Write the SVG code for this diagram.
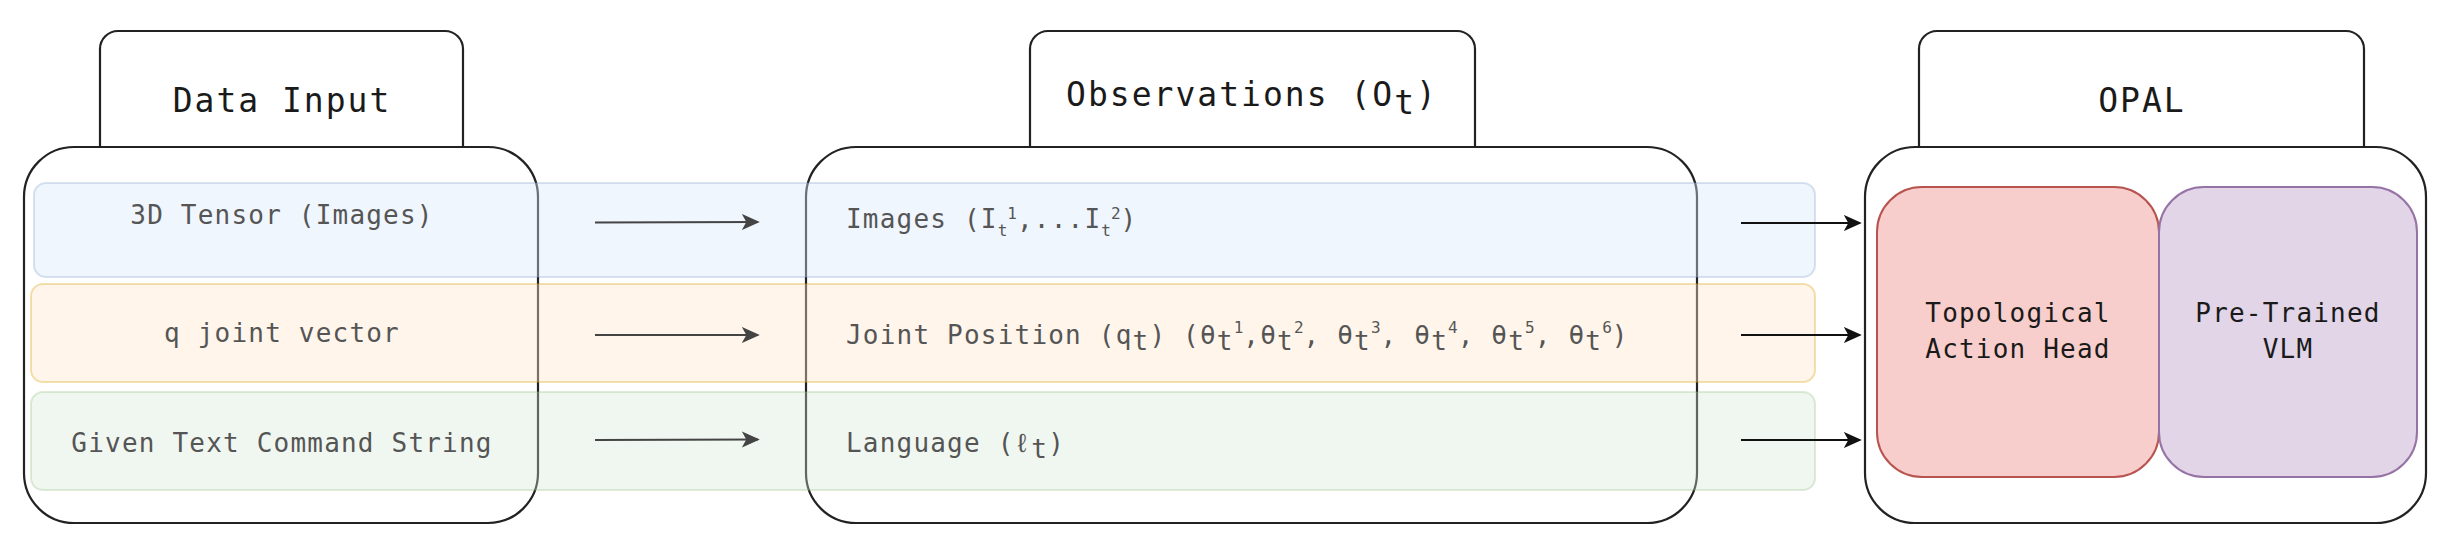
<svg xmlns="http://www.w3.org/2000/svg" width="2450" height="552" viewBox="0 0 2450 552">
<defs>
<style>
.box{fill:#ffffff;stroke:#222222;stroke-width:2.2}
.title{font-family:"DejaVu Sans Mono","Liberation Mono",monospace;font-size:33px;letter-spacing:2px;fill:#1a1a1a;text-anchor:middle}
.rt{font-family:"DejaVu Sans Mono","Liberation Mono",monospace;font-size:26px;letter-spacing:1.2px;fill:#555555}
.it{font-family:"DejaVu Sans Mono","Liberation Mono",monospace;font-size:26px;letter-spacing:1.2px;fill:#1a1a1a;text-anchor:middle}
.s{font-size:16px;letter-spacing:0}
.lt{stroke:#444444;stroke-width:2.2;fill:none}
.rk{stroke:#111111;stroke-width:2.2;fill:none}
</style>
<marker id="ag" viewBox="0 0 10 10" refX="9" refY="5" markerWidth="18" markerHeight="18" markerUnits="userSpaceOnUse" orient="auto"><path d="M0,0.5 L10,5 L0,9.5 L2.5,5 z" fill="#444444"/></marker>
<marker id="ak" viewBox="0 0 10 10" refX="9" refY="5" markerWidth="18" markerHeight="18" markerUnits="userSpaceOnUse" orient="auto"><path d="M0,0.5 L10,5 L0,9.5 L2.5,5 z" fill="#111111"/></marker>
</defs>
<rect width="2450" height="552" fill="#ffffff"/>

<g id="data-input">
<rect class="box" x="100" y="31" width="363" height="140" rx="18"/>
<rect class="box" x="24" y="147" width="514" height="376" rx="50"/>
<text class="title" x="282" y="112">Data Input</text>
</g>

<g id="observations">
<rect class="box" x="1030" y="31" width="445" height="140" rx="18"/>
<rect class="box" x="806" y="147" width="891" height="376" rx="50"/>
<text class="title" x="1252" y="106">Observations (O<tspan dy="8">t</tspan><tspan dy="-8">)</tspan></text>
</g>

<g id="opal">
<rect class="box" x="1919" y="31" width="445" height="140" rx="18"/>
<rect class="box" x="1865" y="147" width="561" height="376" rx="50"/>
<text class="title" x="2142" y="112">OPAL</text>
</g>

<g id="row-images">
<rect x="34" y="183" width="1781" height="94" rx="12" fill="#dae8fc" fill-opacity="0.4" stroke="#6c8ebf" stroke-opacity="0.25" stroke-width="2"/>
<text class="rt" x="282" y="224" text-anchor="middle">3D Tensor (Images)</text>
<text class="rt" x="846" y="228">Images (I<tspan class="s" dy="8">t</tspan><tspan class="s" dy="-17">1</tspan><tspan dy="9">,...I</tspan><tspan class="s" dy="8">t</tspan><tspan class="s" dy="-17">2</tspan><tspan dy="9">)</tspan></text>
</g>

<g id="row-joint">
<rect x="31" y="284" width="1784" height="98" rx="12" fill="#ffe6cc" fill-opacity="0.4" stroke="#d79b00" stroke-opacity="0.3" stroke-width="2"/>
<text class="rt" x="282" y="342" text-anchor="middle">q joint vector</text>
<text class="rt" x="846" y="344" letter-spacing="0.6">Joint Position (q<tspan dy="6">t</tspan><tspan dy="-6">) (θ</tspan><tspan dy="6">t</tspan><tspan class="s" dy="-17">1</tspan><tspan dy="11">,θ</tspan><tspan dy="6">t</tspan><tspan class="s" dy="-17">2</tspan><tspan dy="11">, θ</tspan><tspan dy="6">t</tspan><tspan class="s" dy="-17">3</tspan><tspan dy="11">, θ</tspan><tspan dy="6">t</tspan><tspan class="s" dy="-17">4</tspan><tspan dy="11">, θ</tspan><tspan dy="6">t</tspan><tspan class="s" dy="-17">5</tspan><tspan dy="11">, θ</tspan><tspan dy="6">t</tspan><tspan class="s" dy="-17">6</tspan><tspan dy="11">)</tspan></text>
</g>

<g id="row-language">
<rect x="31" y="392" width="1784" height="98" rx="12" fill="#d5e8d4" fill-opacity="0.35" stroke="#82b366" stroke-opacity="0.25" stroke-width="2"/>
<text class="rt" x="282" y="452" text-anchor="middle">Given Text Command String</text>
<text class="rt" x="846" y="452">Language (ℓ<tspan dy="6">t</tspan><tspan dy="-6">)</tspan></text>
</g>

<g id="topological-action-head">
<rect x="1877" y="187" width="282" height="290" rx="45" fill="#f8cecc" stroke="#b85450" stroke-width="2"/>
<text class="it" x="2018" y="322">Topological</text>
<text class="it" x="2018" y="358">Action Head</text>
</g>

<g id="pretrained-vlm">
<rect x="2159" y="187" width="258" height="290" rx="45" fill="#e1d5e7" stroke="#9673a6" stroke-width="2"/>
<text class="it" x="2288" y="322">Pre-Trained</text>
<text class="it" x="2288" y="358">VLM</text>
</g>

<g id="connectors">
<line class="lt" x1="595" y1="222.5" x2="758" y2="222" marker-end="url(#ag)"/>
<line class="lt" x1="595" y1="335" x2="758" y2="335" marker-end="url(#ag)"/>
<line class="lt" x1="595" y1="440" x2="758" y2="439.5" marker-end="url(#ag)"/>
<line class="rk" x1="1741" y1="223" x2="1860" y2="223" marker-end="url(#ak)"/>
<line class="rk" x1="1741" y1="335" x2="1860" y2="335" marker-end="url(#ak)"/>
<line class="rk" x1="1741" y1="440" x2="1860" y2="440" marker-end="url(#ak)"/>
</g>
</svg>
